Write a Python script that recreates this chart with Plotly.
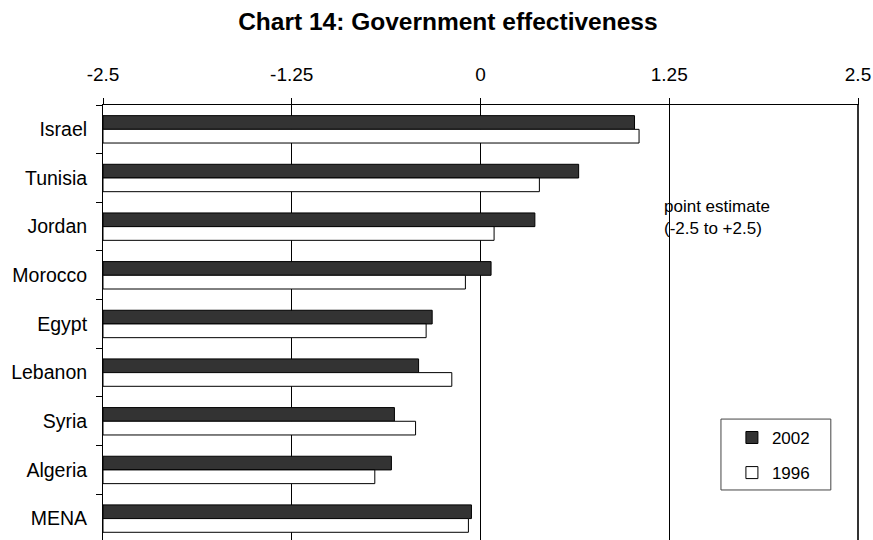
import plotly.graph_objects as go

# Government effectiveness point estimates (-2.5 to +2.5)
countries = ["Israel", "Tunisia", "Jordan", "Morocco", "Egypt",
             "Lebanon", "Syria", "Algeria", "MENA"]
values_2002 = [1.02, 0.65, 0.36, 0.07, -0.32, -0.41, -0.57, -0.59, -0.06]
values_1996 = [1.05, 0.39, 0.09, -0.10, -0.36, -0.19, -0.43, -0.70, -0.08]
tick_values = [-2.5, -1.25, 0, 1.25, 2.5]
tick_labels = ["-2.5", "-1.25", "0", "1.25", "2.5"]

# bars grow from the left end of the scale, where the category axis crosses
AXIS_MIN = -2.5
FONT = "Liberation Sans, Arial, sans-serif"


def from_axis_min(values):
    return [v - AXIS_MIN for v in values]


fig = go.Figure()
fig.add_trace(go.Bar(
    name="2002", y=countries, x=from_axis_min(values_2002), base=AXIS_MIN,
    orientation="h", customdata=values_2002,
    hovertemplate="%{y}: %{customdata}<extra>2002</extra>",
    marker=dict(color="#333333", line=dict(color="black", width=1)),
    legendgroup="a",
))
fig.add_trace(go.Bar(
    name="1996", y=countries, x=from_axis_min(values_1996), base=AXIS_MIN,
    orientation="h", customdata=values_1996,
    hovertemplate="%{y}: %{customdata}<extra>1996</extra>",
    marker=dict(color="white", line=dict(color="black", width=1)),
    legendgroup="b",
))

fig.add_annotation(
    text="point estimate<br>(-2.5 to +2.5)",
    x=1.20, y=1.81, xref="x", yref="y",
    xanchor="left", yanchor="middle", align="left",
    showarrow=False, font=dict(family=FONT, size=17, color="black"),
)

# heavier right-hand frame line
fig.add_shape(type="line", xref="paper", yref="paper",
              x0=1, x1=1, y0=0, y1=1,
              line=dict(color="#333333", width=2))

# legend frame
fig.add_shape(type="rect", xref="paper", yref="paper",
              x0=0.8185, x1=0.964, y0=0.115, y1=0.278,
              line=dict(color="#444444", width=1), fillcolor="white",
              layer="above")

fig.update_layout(
    width=873, height=540,
    margin=dict(l=103, r=15, t=105, b=0),
    paper_bgcolor="white", plot_bgcolor="white",
    barmode="group", bargap=0.437, bargroupgap=0,
    title=dict(
        text="<b>Chart 14: Government effectiveness</b>",
        x=0.513, xanchor="center", xref="container",
        y=1 - 21 / 540, yanchor="middle", yref="container",
        font=dict(family=FONT, size=24.5, color="black"),
    ),
    font=dict(family=FONT, size=19, color="black"),
    legend=dict(
        x=0.833, y=0.276, xanchor="left", yanchor="top",
        borderwidth=0, bgcolor="rgba(0,0,0,0)",
        traceorder="grouped", tracegroupgap=10,
        font=dict(family=FONT, size=17, color="black"),
    ),
    showlegend=True,
)

fig.update_xaxes(
    side="top", range=[-2.5, 2.5],
    tickmode="array", tickvals=tick_values, ticktext=tick_labels,
    ticks="outside", ticklen=6, tickcolor="black",
    showgrid=True, gridcolor="black", gridwidth=1,
    zeroline=False, showline=True, linecolor="black", linewidth=1,
    ticklabelstandoff=9,
    tickfont=dict(family=FONT, size=19, color="black"),
)
fig.update_yaxes(
    type="category", range=[8.44, -0.5],
    tickson="boundaries", ticks="outside", ticklen=6, tickcolor="black",
    showline=True, linecolor="black", linewidth=1, mirror=True,
    showgrid=False, zeroline=False,
    ticklabelstandoff=11,
    tickfont=dict(family=FONT, size=19.5, color="black"),
)

fig.write_html("out.html")
